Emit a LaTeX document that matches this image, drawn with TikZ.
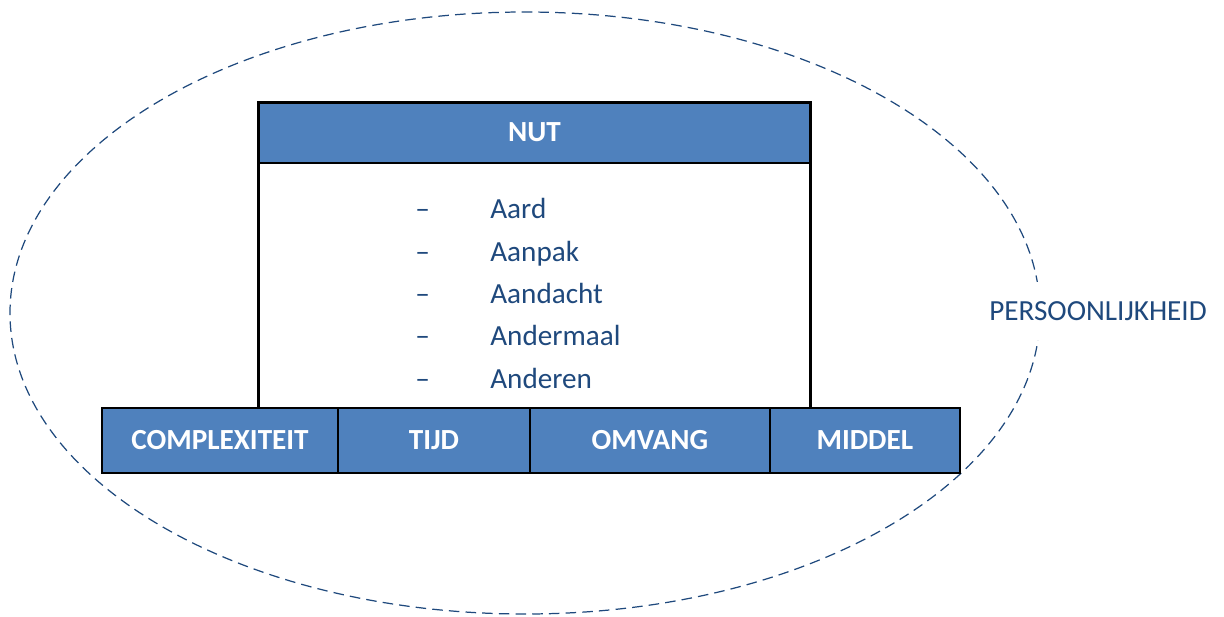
\documentclass[tikz,border=0pt]{standalone}
\usepackage{fontspec}
\setmainfont{Carlito}
\definecolor{nutblue}{RGB}{79,129,189}
\definecolor{nuttext}{RGB}{31,73,125}
\usetikzlibrary{positioning}

\begin{document}
\begin{tikzpicture}[x=0.02cm, y=-0.02cm,
  cell/.style={draw=black, line width=1pt, fill=nutblue, text=white, outer sep=0pt,
    font=\fontsize{16.6}{19}\selectfont\bfseries, minimum height=1.3cm, inner sep=0pt},
  item/.style={text=nuttext, font=\fontsize{16.6}{19}\selectfont, anchor=base west, inner sep=0pt}]
\useasboundingbox (0,0) rectangle (1224,616);

% Dashed ellipse around everything
\draw[nuttext, line width=0.7pt, dash pattern=on 6pt off 3.5pt]
  (525,313) ellipse [x radius=515, y radius=301];
\node[fill=white, text=nuttext, font=\fontsize{16.6}{19}\selectfont,
  minimum height=1.15cm, inner sep=1pt] (persoon) at (1098,311) {PERSOONLIJKHEID};

% NUT box with header
\node[draw=black, fill=white, line width=1.7pt, minimum width=11.06cm, minimum height=6.16cm]
  (nutbody) at (534.5,256) {};
\node[draw=black, fill=nutblue, line width=1.7pt, minimum width=11.06cm, minimum height=1.22cm,
  text=white, font=\fontsize{16.6}{19}\selectfont\bfseries] (nut) at (534.5,132.5) {NUT};

% List inside the box
\foreach \name/\y in {Aard/218, Aanpak/261, Aandacht/303, Andermaal/345, Anderen/388} {
  \node[item] (dash\name) at (415,\y) {\textendash};
  \node[item] (\name) at (490,\y) {\name};
}

% Bottom row
\node[cell, minimum width=4.72cm] (complex) at (220,440.5) {COMPLEXITEIT};
\node[cell, minimum width=3.84cm, right=0pt of complex] (tijd) {TIJD};
\node[cell, minimum width=4.8cm, right=0pt of tijd] (omvang) {OMVANG};
\node[cell, minimum width=3.8cm, right=0pt of omvang] (middel) {MIDDEL};
\end{tikzpicture}
\end{document}
